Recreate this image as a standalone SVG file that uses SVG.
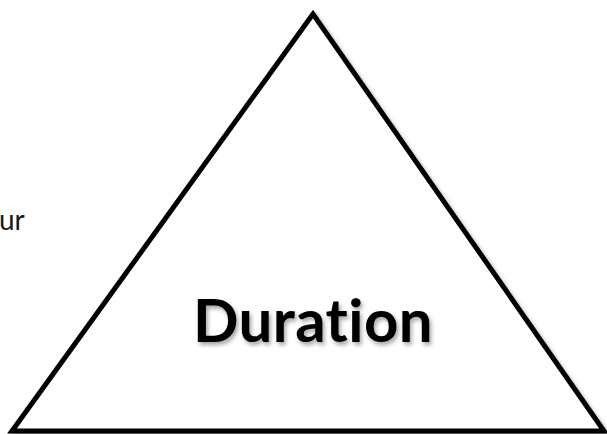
<svg xmlns="http://www.w3.org/2000/svg" width="607" height="434" viewBox="0 0 607 434">
<defs>
<filter id="sh" x="-10%" y="-10%" width="120%" height="130%">
<feDropShadow dx="2" dy="3" stdDeviation="2" flood-color="#000" flood-opacity="0.35"/>
</filter>
<style>
.lbl{font-family:Lato,"Open Sans","Liberation Sans",sans-serif;font-variant-ligatures:none;font-feature-settings:"liga" 0;}
</style>
</defs>
<rect width="607" height="434" fill="#fff"/>
<g id="triangle">
<polygon points="313,14 12,431 604,431" fill="#fff" stroke="#000" stroke-width="5" stroke-linejoin="miter" filter="url(#sh)"/>
</g>
<g id="duration">
<text class="lbl" x="313" y="342" text-anchor="middle" font-size="60" font-weight="bold" letter-spacing="0.4" fill="#000" filter="url(#sh)">Duration</text>
</g>
<g id="clipped-label">
<text class="lbl" x="-1" y="230" font-size="28" fill="#1a1a1a">ur</text>
</g>
</svg>
